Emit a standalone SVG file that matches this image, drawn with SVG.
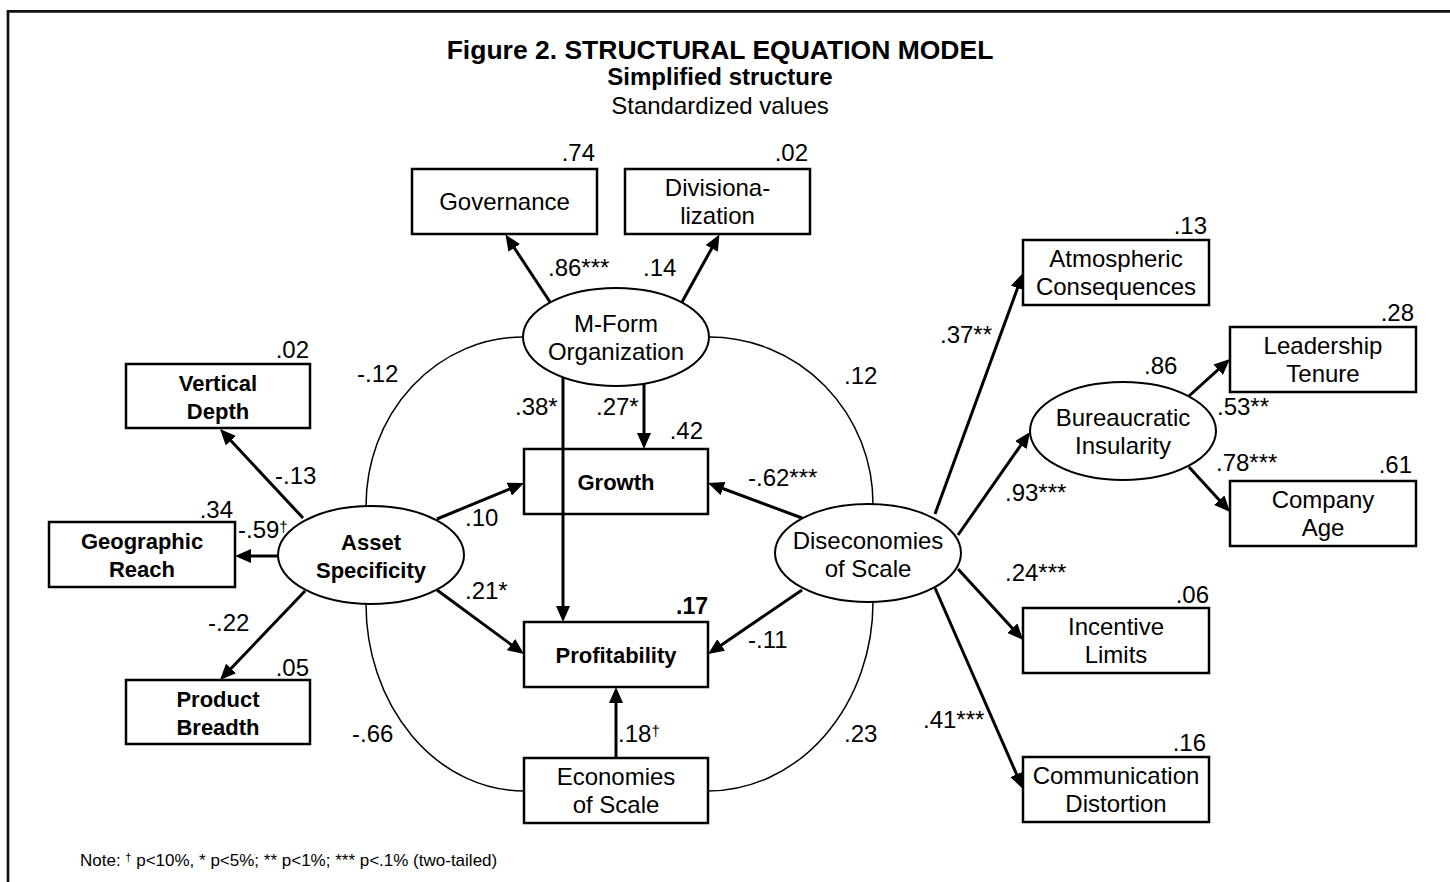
<svg xmlns="http://www.w3.org/2000/svg" width="1450" height="882" viewBox="0 0 1450 882">
<defs>
<style>
text{font-family:"Liberation Sans",Arial,sans-serif;fill:#000}
.n{font-size:24px}
.b{font-size:22px;font-weight:bold}
.v{font-size:24px}
.m{text-anchor:middle}
.e{text-anchor:end}
.box{fill:none;stroke:#000;stroke-width:2.5}
.ell{fill:#fff;stroke:#000;stroke-width:2}
.arr{fill:none;stroke:#000;stroke-width:3;marker-end:url(#ah)}
.cov{fill:none;stroke:#000;stroke-width:1.5}
.frame{fill:none;stroke:#111;stroke-width:2.7}
</style>
<marker id="ah" markerUnits="userSpaceOnUse" markerWidth="16" markerHeight="14" refX="6" refY="7" orient="auto">
<path d="M0,0 L16,7 L0,14 z" fill="#000"/>
</marker>
</defs>
<rect width="1450" height="882" fill="#fff"/>
<path class="frame" d="M8,882 L8,11.3 L1450,11.3"/>
<g id="title">
<text x="720" y="59" class="m" style="font-size:26.5px;font-weight:bold">Figure 2. STRUCTURAL EQUATION MODEL</text>
<text x="720" y="85" class="m" style="font-size:24px;font-weight:bold">Simplified structure</text>
<text x="720" y="114" class="m" style="font-size:24px">Standardized values</text>
</g>
<g id="governance"><rect class="box" x="412" y="169" width="185" height="65"/><text class="n m" x="504.5" y="210">Governance</text></g>
<g id="divisionalization"><rect class="box" x="625" y="169" width="185" height="65"/><text class="n m" x="717.5" y="196">Divisiona-</text><text class="n m" x="717.5" y="224">lization</text></g>
<g id="mform"><ellipse class="ell" cx="616" cy="337" rx="93" ry="49"/><text class="n m" x="616" y="332">M-Form</text><text class="n m" x="616" y="360">Organization</text></g>
<g id="vertical-depth"><rect class="box" x="126" y="364" width="184" height="64"/><text class="b m" x="218" y="391">Vertical</text><text class="b m" x="218" y="419">Depth</text></g>
<g id="geographic-reach"><rect class="box" x="49" y="522" width="186" height="65"/><text class="b m" x="142" y="549">Geographic</text><text class="b m" x="142" y="577">Reach</text></g>
<g id="product-breadth"><rect class="box" x="126" y="680" width="184" height="64"/><text class="b m" x="218" y="707">Product</text><text class="b m" x="218" y="735">Breadth</text></g>
<g id="asset-specificity"><ellipse class="ell" cx="371" cy="555" rx="93" ry="49"/><text class="b m" x="371" y="550">Asset</text><text class="b m" x="371" y="578">Specificity</text></g>
<g id="growth"><rect class="box" x="524" y="449" width="184" height="65"/><text class="b m" x="616" y="490">Growth</text></g>
<g id="profitability"><rect class="box" x="524" y="622" width="184" height="65"/><text class="b m" x="616" y="663">Profitability</text></g>
<g id="economies"><rect class="box" x="524" y="758" width="184" height="65"/><text class="n m" x="616" y="785">Economies</text><text class="n m" x="616" y="813">of Scale</text></g>
<g id="diseconomies"><ellipse class="ell" cx="868" cy="553" rx="93" ry="49"/><text class="n m" x="868" y="549">Diseconomies</text><text class="n m" x="868" y="577">of Scale</text></g>
<g id="atmospheric"><rect class="box" x="1023" y="240" width="186" height="65"/><text class="n m" x="1116" y="267">Atmospheric</text><text class="n m" x="1116" y="295">Consequences</text></g>
<g id="bureaucratic"><ellipse class="ell" cx="1123" cy="431" rx="93" ry="49"/><text class="n m" x="1123" y="426">Bureaucratic</text><text class="n m" x="1123" y="454">Insularity</text></g>
<g id="leadership"><rect class="box" x="1230" y="327" width="186" height="65"/><text class="n m" x="1323" y="354">Leadership</text><text class="n m" x="1323" y="382">Tenure</text></g>
<g id="company-age"><rect class="box" x="1230" y="481" width="186" height="65"/><text class="n m" x="1323" y="508">Company</text><text class="n m" x="1323" y="536">Age</text></g>
<g id="incentive"><rect class="box" x="1023" y="608" width="186" height="65"/><text class="n m" x="1116" y="635">Incentive</text><text class="n m" x="1116" y="663">Limits</text></g>
<g id="communication"><rect class="box" x="1023" y="757" width="186" height="65"/><text class="n m" x="1116" y="784">Communication</text><text class="n m" x="1116" y="812">Distortion</text></g>
<g id="connectors">
<path class="cov" d="M523,337 A157,169 0 0 0 366,506"/>
<path class="cov" d="M709,337 A164,167 0 0 1 873,504"/>
<path class="cov" d="M366,604 A158,187 0 0 0 524,791"/>
<path class="cov" d="M873,602 A165,189 0 0 1 708,791"/>
<path class="arr" d="M550,302 L511,242.9"/>
<path class="arr" d="M682,302 L714.6,243.2"/>
<path class="arr" d="M303,518 L226.8,436.3"/>
<path class="arr" d="M278,556 L245,556"/>
<path class="arr" d="M305,591 L226.9,672.8"/>
<path class="arr" d="M563,377 L563,612"/>
<path class="arr" d="M644,384 L644,439"/>
<path class="arr" d="M437,519 L514.8,486.8"/>
<path class="arr" d="M437,590 L515.9,648.1"/>
<path class="arr" d="M802,518 L717.4,486.5"/>
<path class="arr" d="M802,590 L716.3,648.4"/>
<path class="arr" d="M616,758 L616,697"/>
<path class="arr" d="M935,514 L1019.6,282.4"/>
<path class="arr" d="M958,535 L1024.3,440.2"/>
<path class="arr" d="M958,569 L1016.3,632.6"/>
<path class="arr" d="M935,588 L1019,779.8"/>
<path class="arr" d="M1189,396 L1222.6,365.7"/>
<path class="arr" d="M1189,467 L1223.3,504.6"/>
</g>
<g id="labels" class="v">
<text x="595" y="161" class="e">.74</text>
<text x="808" y="161" class="e">.02</text>
<text x="548" y="276">.86***</text>
<text x="643" y="276">.14</text>
<text x="357" y="382">-.12</text>
<text x="844" y="384">.12</text>
<text x="309" y="358" class="e">.02</text>
<text x="275" y="484">-.13</text>
<text x="233" y="518" class="e">.34</text>
<text x="238" y="538">-.59<tspan dy="-6" style="font-size:15px">†</tspan></text>
<text x="208" y="631">-.22</text>
<text x="309" y="676" class="e">.05</text>
<text x="515" y="415">.38*</text>
<text x="596" y="415">.27*</text>
<text x="703" y="439" class="e">.42</text>
<text x="465" y="526">.10</text>
<text x="748" y="486">-.62***</text>
<text x="465" y="599">.21*</text>
<text x="708" y="614" class="e" style="font-weight:bold;font-size:23px">.17</text>
<text x="748" y="648">-.11</text>
<text x="352" y="742">-.66</text>
<text x="618" y="742">.18<tspan dy="-6" style="font-size:15px">†</tspan></text>
<text x="844" y="742">.23</text>
<text x="1207" y="234" class="e">.13</text>
<text x="940" y="343">.37**</text>
<text x="1144" y="374">.86</text>
<text x="1414" y="321" class="e">.28</text>
<text x="1217" y="415">.53**</text>
<text x="1216" y="471">.78***</text>
<text x="1412" y="473" class="e">.61</text>
<text x="1005" y="501">.93***</text>
<text x="1005" y="581">.24***</text>
<text x="1209" y="603" class="e">.06</text>
<text x="923" y="728">.41***</text>
<text x="1206" y="751" class="e">.16</text>
</g>
<g id="note"><text x="80" y="866" style="font-size:17px">Note: <tspan dy="-5" style="font-size:11px">†</tspan><tspan dy="5"> p&lt;10%, * p&lt;5%; ** p&lt;1%; *** p&lt;.1% (two-tailed)</tspan></text></g>
</svg>
